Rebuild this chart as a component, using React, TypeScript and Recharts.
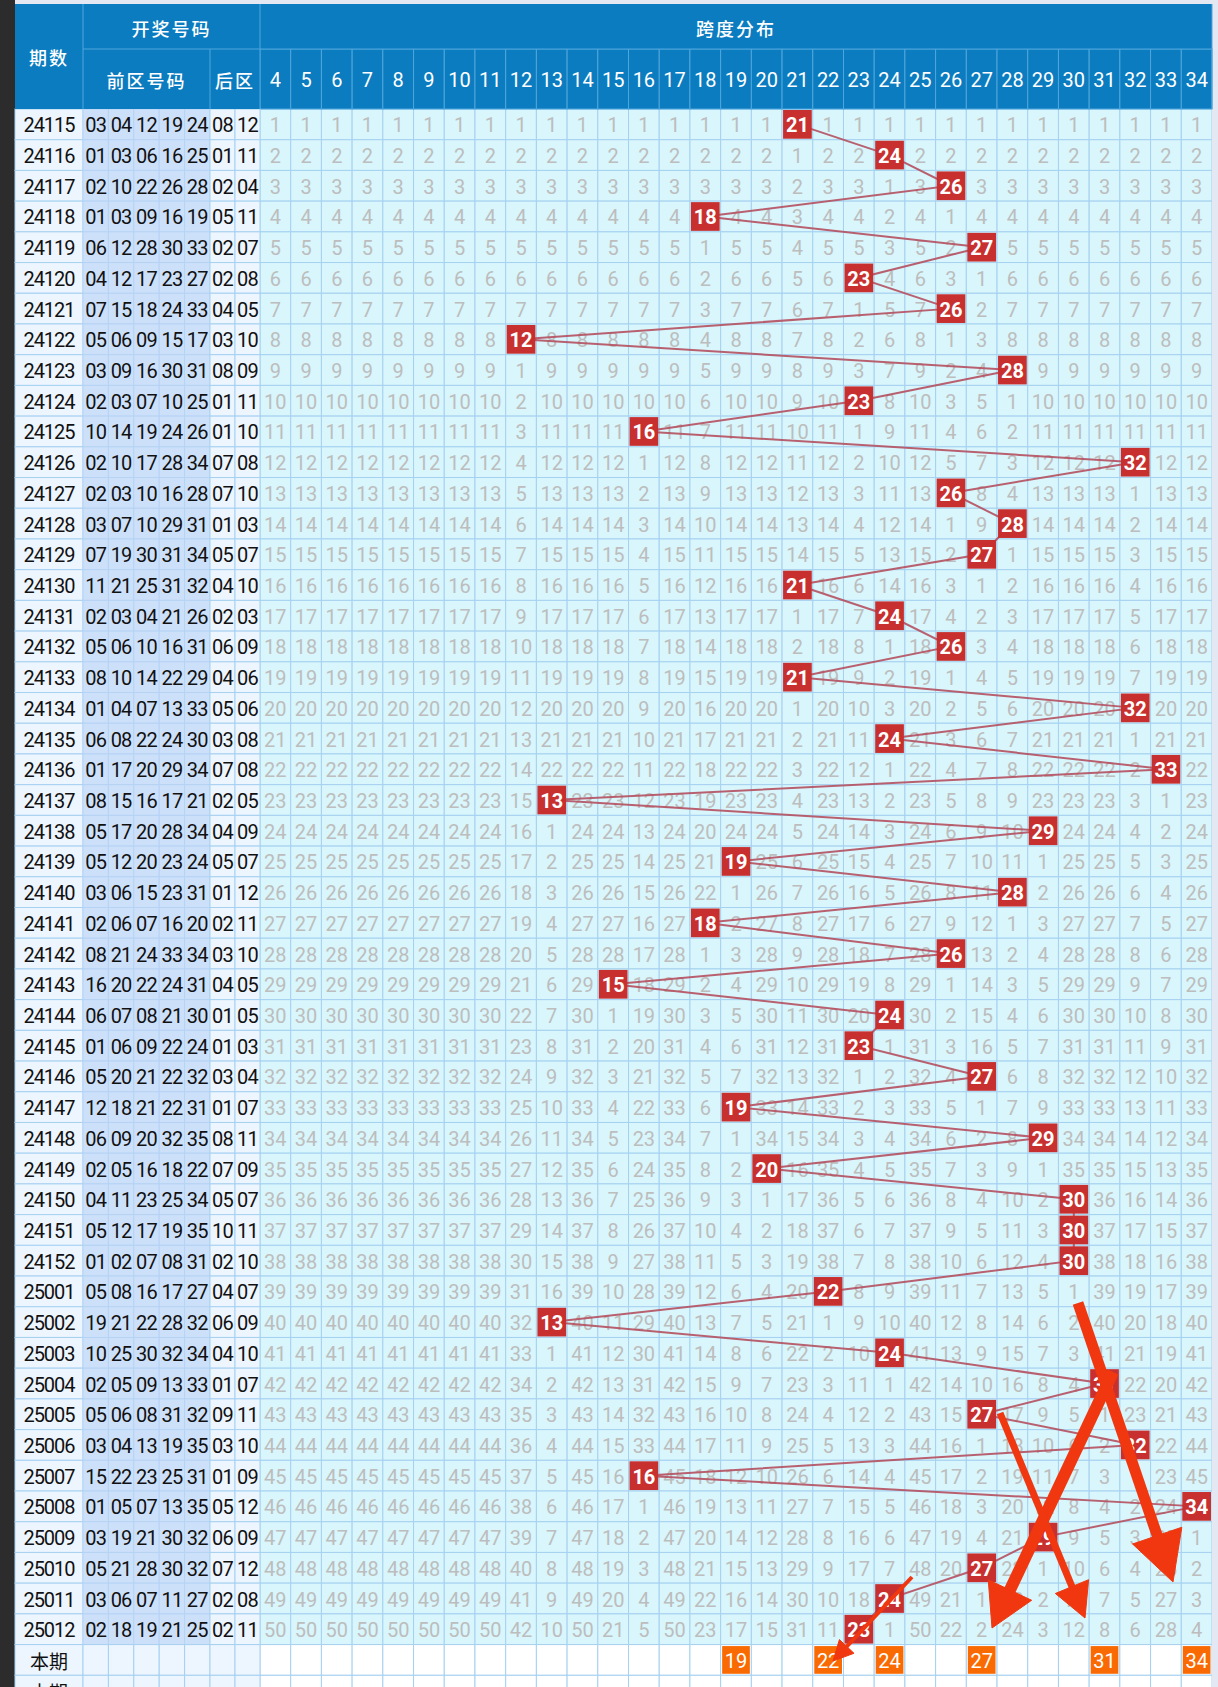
import React from 'react';
import { ComposedChart, Scatter, XAxis, YAxis } from 'recharts';

const periods = [
  '24115', '24116', '24117', '24118', '24119', '24120', '24121', '24122', '24123', '24124',
  '24125', '24126', '24127', '24128', '24129', '24130', '24131', '24132', '24133', '24134',
  '24135', '24136', '24137', '24138', '24139', '24140', '24141', '24142', '24143', '24144',
  '24145', '24146', '24147', '24148', '24149', '24150', '24151', '24152', '25001', '25002',
  '25003', '25004', '25005', '25006', '25007', '25008', '25009', '25010', '25011', '25012',
];

const frontNumbers = [
  [3, 4, 12, 19, 24], [1, 3, 6, 16, 25], [2, 10, 22, 26, 28], [1, 3, 9, 16, 19], [6, 12, 28, 30, 33],
  [4, 12, 17, 23, 27], [7, 15, 18, 24, 33], [5, 6, 9, 15, 17], [3, 9, 16, 30, 31], [2, 3, 7, 10, 25],
  [10, 14, 19, 24, 26], [2, 10, 17, 28, 34], [2, 3, 10, 16, 28], [3, 7, 10, 29, 31], [7, 19, 30, 31, 34],
  [11, 21, 25, 31, 32], [2, 3, 4, 21, 26], [5, 6, 10, 16, 31], [8, 10, 14, 22, 29], [1, 4, 7, 13, 33],
  [6, 8, 22, 24, 30], [1, 17, 20, 29, 34], [8, 15, 16, 17, 21], [5, 17, 20, 28, 34], [5, 12, 20, 23, 24],
  [3, 6, 15, 23, 31], [2, 6, 7, 16, 20], [8, 21, 24, 33, 34], [16, 20, 22, 24, 31], [6, 7, 8, 21, 30],
  [1, 6, 9, 22, 24], [5, 20, 21, 22, 32], [12, 18, 21, 22, 31], [6, 9, 20, 32, 35], [2, 5, 16, 18, 22],
  [4, 11, 23, 25, 34], [5, 12, 17, 19, 35], [1, 2, 7, 8, 31], [5, 8, 16, 17, 27], [19, 21, 22, 28, 32],
  [10, 25, 30, 32, 34], [2, 5, 9, 13, 33], [5, 6, 8, 31, 32], [3, 4, 13, 19, 35], [15, 22, 23, 25, 31],
  [1, 5, 7, 13, 35], [3, 19, 21, 30, 32], [5, 21, 28, 30, 32], [3, 6, 7, 11, 27], [2, 18, 19, 21, 25],
];

const backNumbers = [
  [8, 12], [1, 11], [2, 4], [5, 11], [2, 7], [2, 8], [4, 5], [3, 10], [8, 9], [1, 11],
  [1, 10], [7, 8], [7, 10], [1, 3], [5, 7], [4, 10], [2, 3], [6, 9], [4, 6], [5, 6],
  [3, 8], [7, 8], [2, 5], [4, 9], [5, 7], [1, 12], [2, 11], [3, 10], [4, 5], [1, 5],
  [1, 3], [3, 4], [1, 7], [8, 11], [7, 9], [5, 7], [10, 11], [2, 10], [4, 7], [6, 9],
  [4, 10], [1, 7], [9, 11], [3, 10], [1, 9], [5, 12], [6, 9], [7, 12], [2, 8], [2, 11],
];

const spans = [
  21, 24, 26, 18, 27, 23, 26, 12, 28, 23,
  16, 32, 26, 28, 27, 21, 24, 26, 21, 32,
  24, 33, 13, 29, 19, 28, 18, 26, 15, 24,
  23, 27, 19, 29, 20, 30, 30, 30, 22, 13,
  24, 31, 27, 32, 16, 34, 29, 27, 24, 23,
];

const spanColumns = [
  4, 5, 6, 7, 8, 9, 10, 11, 12, 13, 14, 15, 16, 17, 18, 19,
  20, 21, 22, 23, 24, 25, 26, 27, 28, 29, 30, 31, 32, 33, 34,
];

const currentPicks = [19, 22, 24, 27, 31, 34];
const footerLabel = '本期';

// ---- layout ----
const W = 1218;
const VIEW_H = 1687;
const CHART_H = 1706;
const HEAD_TOP = 4;
const HEAD_MID = 49;
const HEAD_BOTTOM = 109;
const LEFT = 15;
const GRID_LEFT = 260;
const GRID_RIGHT = 1212;
const ROWS = periods.length + 2;
const CW = (GRID_RIGHT - GRID_LEFT) / spanColumns.length;
const RH = (CHART_H - HEAD_BOTTOM) / ROWS;

const FONT = 'Roboto, "Noto Sans", sans-serif';
const CN_FONT = '"Noto Sans CJK SC", "Noto Sans", sans-serif';
const HEAD_BLUE = '#0a7cbf';
const HEAD_LINE = '#4fa6dc';
const GRID_LINE = '#a6d1f0';
const pad = (n: number) => String(n).padStart(2, '0');

// omission counts per cell, counted from the first row shown
const lastHit: Record<number, number> = {};
const gridCells: { col: number; row: number; miss: number | null; blank?: boolean }[] = [];
periods.forEach((_, r) => {
  spanColumns.forEach((c) => {
    const hit = spans[r] === c;
    gridCells.push({ col: c, row: r, miss: hit ? null : r - (lastHit[c] ?? -1) });
  });
  lastHit[spans[r]] = r;
});
[periods.length, periods.length + 1].forEach((r) =>
  spanColumns.forEach((c) => gridCells.push({ col: c, row: r, miss: null, blank: true }))
);

const hitPoints = spans.map((s, r) => ({ col: s, row: r, value: s }));
const pickPoints = currentPicks.map((c) => ({ col: c, row: periods.length, value: c }));
const rowTicks = Array.from({ length: ROWS }, (_, i) => i);

function GridCell(props: any) {
  const { cx, cy, payload } = props;
  return (
    <g>
      <rect x={cx - CW / 2} y={cy - RH / 2} width={CW} height={RH}
        fill={payload.blank ? '#ffffff' : '#d8f6fc'} stroke={GRID_LINE} strokeWidth={1} />
      {payload.miss != null && (
        <text x={cx} y={cy + 1} textAnchor="middle" dominantBaseline="central"
          fontFamily={FONT} fontSize={20} fill="#bdbdbd">{payload.miss}</text>
      )}
    </g>
  );
}

function HitBox(props: any) {
  const { cx, cy, payload } = props;
  return (
    <g>
      <rect x={cx - CW / 2 + 1} y={cy - RH / 2 + 1} width={CW - 2} height={RH - 2} fill="#c8302f" />
      <text x={cx} y={cy + 1} textAnchor="middle" dominantBaseline="central"
        fontFamily={FONT} fontSize={20} fontWeight={700} fill="#ffffff">{payload.value}</text>
    </g>
  );
}

function PickBox(props: any) {
  const { cx, cy, payload } = props;
  return (
    <g>
      <rect x={cx - CW / 2 + 1.5} y={cy - RH / 2 + 1.5} width={CW - 3} height={RH - 3} fill="#fa6a02" />
      <text x={cx} y={cy + 1} textAnchor="middle" dominantBaseline="central"
        fontFamily={FONT} fontSize={20} fill="#ffffff">{payload.value}</text>
    </g>
  );
}

function ColumnTick(props: any) {
  const { x, payload } = props;
  return (
    <g>
      <rect x={x - CW / 2} y={HEAD_MID} width={CW} height={HEAD_BOTTOM - HEAD_MID}
        fill={HEAD_BLUE} stroke={HEAD_LINE} strokeWidth={1} />
      <text x={x} y={(HEAD_MID + HEAD_BOTTOM) / 2 + 1} textAnchor="middle" dominantBaseline="central"
        fontFamily={FONT} fontSize={20} fill="#ffffff">{payload.value}</text>
    </g>
  );
}

function RowTick(props: any) {
  const { y, payload } = props;
  const r = payload.value as number;
  const top = y - RH / 2;
  const isFooter = r >= periods.length;
  const frontW = (210 - 83) / 5;
  const backW = (GRID_RIGHT - GRID_RIGHT + GRID_LEFT - 210) / 2;
  const textY = y + 1;
  return (
    <g>
      <rect x={LEFT} y={top} width={83 - LEFT} height={RH} fill="#edf5ff" stroke={GRID_LINE} />
      <text x={(LEFT + 83) / 2} y={textY} textAnchor="middle" dominantBaseline="central"
        fontFamily={isFooter ? CN_FONT : FONT} fontSize={isFooter ? 19 : 20}
        letterSpacing={isFooter ? 0 : -1} fill="#111">{isFooter ? footerLabel : periods[r]}</text>
      {Array.from({ length: 5 }, (_, i) => (
        <g key={'f' + i}>
          <rect x={83 + i * frontW} y={top} width={frontW} height={RH}
            fill={isFooter ? '#edf5ff' : '#cde0fa'} stroke={isFooter ? GRID_LINE : '#b6d3f4'} />
          {!isFooter && (
            <text x={83 + (i + 0.5) * frontW} y={textY} textAnchor="middle" dominantBaseline="central"
              fontFamily={FONT} fontSize={20} letterSpacing={-0.8} fill="#111">{pad(frontNumbers[r][i])}</text>
          )}
        </g>
      ))}
      {Array.from({ length: 2 }, (_, i) => (
        <g key={'b' + i}>
          <rect x={210 + i * backW} y={top} width={backW} height={RH} fill="#edf5ff" stroke={GRID_LINE} />
          {!isFooter && (
            <text x={210 + (i + 0.5) * backW} y={textY} textAnchor="middle" dominantBaseline="central"
              fontFamily={FONT} fontSize={20} letterSpacing={-0.8} fill="#111">{pad(backNumbers[r][i])}</text>
          )}
        </g>
      ))}
    </g>
  );
}

function HeaderOverlay() {
  const t = { fontFamily: CN_FONT, fontSize: 18, fontWeight: 500, fill: '#ffffff', letterSpacing: 2 } as const;
  return (
    <svg width={W} height={HEAD_BOTTOM + 1}
      style={{ position: 'absolute', left: 0, top: 0, pointerEvents: 'none' }}>
      <rect x={LEFT} y={HEAD_TOP} width={GRID_RIGHT - LEFT} height={HEAD_MID - HEAD_TOP} fill={HEAD_BLUE} />
      <rect x={LEFT} y={HEAD_MID} width={GRID_LEFT - LEFT} height={HEAD_BOTTOM - HEAD_MID} fill={HEAD_BLUE} />
      <g stroke={HEAD_LINE} strokeWidth={1}>
        <line x1={83} y1={HEAD_TOP} x2={83} y2={HEAD_BOTTOM} />
        <line x1={GRID_LEFT} y1={HEAD_TOP} x2={GRID_LEFT} y2={HEAD_BOTTOM} />
        <line x1={210} y1={HEAD_MID} x2={210} y2={HEAD_BOTTOM} />
        <line x1={83} y1={HEAD_MID} x2={GRID_RIGHT} y2={HEAD_MID} />
        <line x1={GRID_RIGHT} y1={HEAD_TOP} x2={GRID_RIGHT} y2={HEAD_BOTTOM} />
      </g>
      <text x={(LEFT + 83) / 2} y={(HEAD_TOP + HEAD_BOTTOM) / 2} textAnchor="middle" dominantBaseline="central" {...t}>期数</text>
      <text x={(83 + GRID_LEFT) / 2} y={(HEAD_TOP + HEAD_MID) / 2 + 1} textAnchor="middle" dominantBaseline="central" {...t}>开奖号码</text>
      <text x={(83 + 210) / 2} y={(HEAD_MID + HEAD_BOTTOM) / 2 + 1} textAnchor="middle" dominantBaseline="central" {...t}>前区号码</text>
      <text x={(210 + GRID_LEFT) / 2} y={(HEAD_MID + HEAD_BOTTOM) / 2 + 1} textAnchor="middle" dominantBaseline="central" {...t}>后区</text>
      <text x={(GRID_LEFT + GRID_RIGHT) / 2} y={(HEAD_TOP + HEAD_MID) / 2 + 1} textAnchor="middle" dominantBaseline="central" {...t}>跨度分布</text>
    </svg>
  );
}

// hand-drawn red arrows on top of the screenshot
const arrows = [
  { from: [1078, 1303], tip: [1173, 1582], w: 11, len: 49, half: 26 },
  { from: [1113, 1372], tip: [992, 1628], w: 12, len: 42, half: 24 },
  { from: [1000, 1413], tip: [1085, 1618], w: 7, len: 34, half: 18 },
  { from: [912, 1577], tip: [833, 1661], w: 4, len: 20, half: 10 },
];

function ArrowOverlay() {
  return (
    <svg width={W} height={VIEW_H} style={{ position: 'absolute', left: 0, top: 0, pointerEvents: 'none' }}>
      {arrows.map((a, i) => {
        const dx = a.tip[0] - a.from[0];
        const dy = a.tip[1] - a.from[1];
        const d = Math.hypot(dx, dy);
        const ux = dx / d, uy = dy / d;
        const bx = a.tip[0] - ux * a.len, by = a.tip[1] - uy * a.len;
        const px = -uy * a.half, py = ux * a.half;
        return (
          <g key={i} fill="#f0370f" stroke="#f0370f">
            <line x1={a.from[0]} y1={a.from[1]} x2={bx + ux * 4} y2={by + uy * 4} strokeWidth={a.w} />
            <polygon points={`${a.tip[0]},${a.tip[1]} ${bx + px},${by + py} ${bx - px},${by - py}`} strokeWidth={1} />
          </g>
        );
      })}
    </svg>
  );
}

export default function App() {
  return (
    <div style={{ position: 'relative', width: W, height: VIEW_H, overflow: 'hidden', background: '#e4e8f3', fontFamily: FONT }}>
      <style>{'body{margin:0}'}</style>
      <div style={{ position: 'absolute', left: 0, top: 0, width: LEFT, height: VIEW_H, background: '#2c2c2c' }} />
      <div style={{ position: 'absolute', left: 0, top: 0 }}>
        <ComposedChart width={W} height={CHART_H} margin={{ top: HEAD_TOP, right: W - GRID_RIGHT, bottom: 0, left: LEFT }}>
          <XAxis type="number" dataKey="col" orientation="top" domain={[3.5, 34.5]} allowDataOverflow
            ticks={spanColumns} interval={0} height={HEAD_BOTTOM - HEAD_TOP} tick={<ColumnTick />}
            axisLine={false} tickLine={false} tickSize={0} tickMargin={0} />
          <YAxis type="number" dataKey="row" domain={[-0.5, ROWS - 0.5]} reversed allowDataOverflow
            ticks={rowTicks} interval={0} width={GRID_LEFT - LEFT} tick={<RowTick />}
            axisLine={false} tickLine={false} tickSize={0} tickMargin={0} />
          <Scatter data={gridCells} shape={<GridCell />} isAnimationActive={false} />
          <Scatter data={hitPoints} shape={<HitBox />} fill="#b5505f"
            line={{ stroke: '#b5505f', strokeWidth: 2, strokeOpacity: 0.9 }} isAnimationActive={false} />
          <Scatter data={pickPoints} shape={<PickBox />} isAnimationActive={false} />
        </ComposedChart>
      </div>
      <HeaderOverlay />
      <ArrowOverlay />
    </div>
  );
}
